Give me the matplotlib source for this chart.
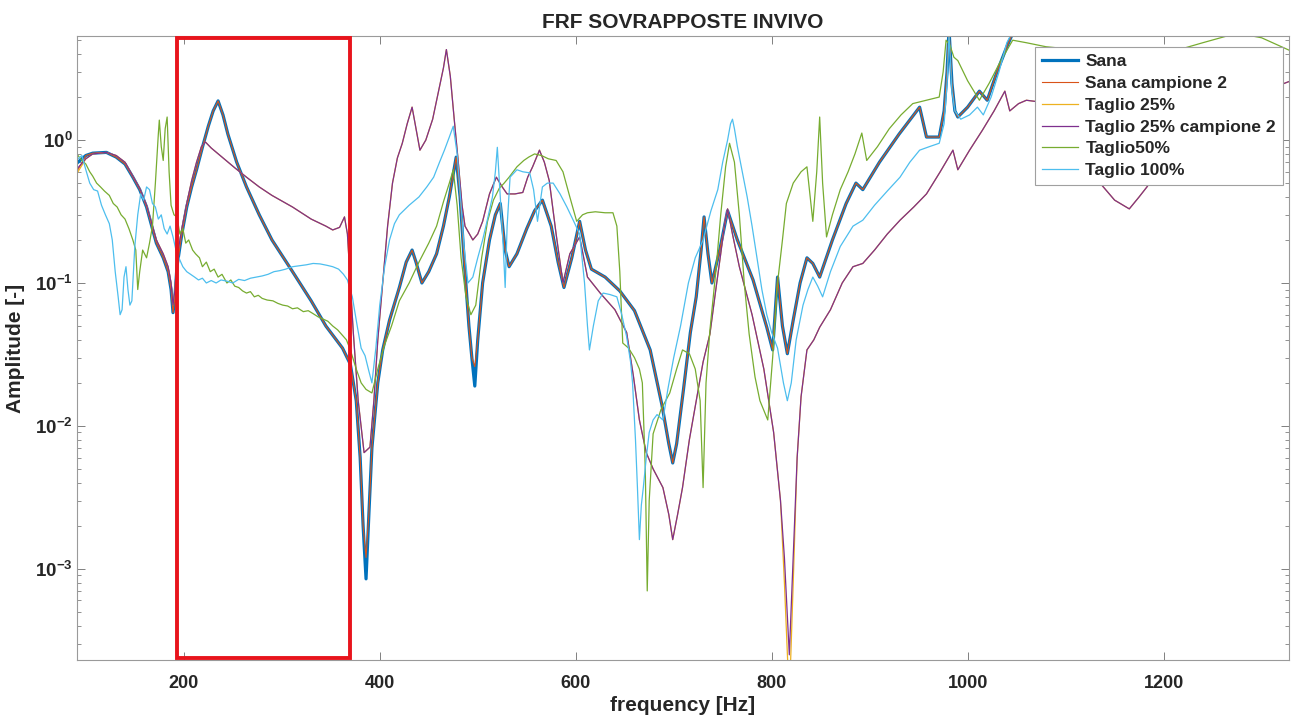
import matplotlib.pyplot as plt
import matplotlib.transforms as mtransforms
from matplotlib.patches import Rectangle

# FRF curves: (frequency [Hz], amplitude [-])
sana = [
    (92, 0.70), (100, 0.78), (107, 0.81), (121, 0.82), (131, 0.76), (140, 0.68), (148, 0.55), (155, 0.45),
    (162, 0.34), (172, 0.19), (179, 0.15), (184, 0.12), (187, 0.09), (189, 0.062), (191, 0.08), (193, 0.13),
    (198, 0.22), (203, 0.34), (208, 0.47), (213, 0.62), (219, 0.89), (225, 1.25), (230, 1.6), (235, 1.88),
    (240, 1.5), (245, 1.1), (254, 0.7), (264, 0.47), (277, 0.3), (290, 0.2), (311, 0.12), (330, 0.075),
    (345, 0.05), (362, 0.035), (370, 0.027), (376, 0.015), (380, 0.006), (383, 0.002), (386, 0.00085),
    (389, 0.0025), (392, 0.007), (398, 0.02), (403, 0.034), (410, 0.055), (420, 0.093), (427, 0.14),
    (433, 0.17), (437, 0.14), (443, 0.1), (450, 0.12), (458, 0.16), (465, 0.25), (471, 0.4), (478, 0.76),
    (482, 0.4), (486, 0.15), (491, 0.05), (494, 0.03), (497, 0.019), (500, 0.04), (505, 0.1), (512, 0.2),
    (518, 0.3), (523, 0.36), (528, 0.17), (532, 0.13), (540, 0.16), (550, 0.24), (558, 0.32), (566, 0.38),
    (575, 0.25), (582, 0.14), (588, 0.093), (596, 0.15), (604, 0.27), (610, 0.17), (616, 0.125), (630, 0.11),
    (645, 0.088), (660, 0.064), (676, 0.034), (688, 0.014), (695, 0.0075), (699, 0.0055), (703, 0.0075),
    (710, 0.018), (717, 0.045), (723, 0.08), (728, 0.17), (731, 0.29), (735, 0.16), (739, 0.1), (747, 0.17),
    (755, 0.32), (765, 0.2), (781, 0.105), (795, 0.049), (801, 0.034), (806, 0.11), (811, 0.05), (816, 0.032),
    (822, 0.055), (829, 0.1), (836, 0.15), (842, 0.137), (849, 0.11), (862, 0.2), (876, 0.36), (886, 0.5),
    (893, 0.45), (910, 0.7), (930, 1.1), (951, 1.7), (958, 1.05), (971, 1.05), (976, 1.6), (979, 3.0),
    (981, 6.0), (984, 2.5), (987, 1.6), (990, 1.45), (1000, 1.7), (1012, 2.2), (1020, 1.9), (1030, 3.0),
    (1040, 4.5), (1048, 6.0), (1100, 7.5), (1200, 8.5), (1330, 10.0),
]

sana_campione_2 = [
    (92, 0.62), (100, 0.78), (107, 0.81), (121, 0.82), (131, 0.76), (140, 0.68), (148, 0.55), (155, 0.45),
    (162, 0.34), (172, 0.19), (179, 0.15), (184, 0.12), (187, 0.09), (189, 0.062), (191, 0.08), (193, 0.13),
    (198, 0.22), (203, 0.34), (208, 0.47), (213, 0.62), (219, 0.89), (225, 1.25), (230, 1.6), (235, 1.88),
    (240, 1.5), (245, 1.1), (254, 0.7), (264, 0.47), (277, 0.3), (290, 0.2), (311, 0.12), (330, 0.075),
    (345, 0.05), (362, 0.035), (370, 0.027), (376, 0.015), (380, 0.006), (383, 0.002), (386, 0.0012),
    (389, 0.0025), (392, 0.007), (398, 0.02), (403, 0.034), (410, 0.055), (420, 0.093), (427, 0.14),
    (433, 0.17), (437, 0.14), (443, 0.1), (450, 0.12), (458, 0.16), (465, 0.25), (471, 0.4), (478, 0.76),
    (482, 0.4), (486, 0.15), (491, 0.05), (494, 0.03), (497, 0.026), (500, 0.04), (505, 0.1), (512, 0.2),
    (518, 0.3), (523, 0.36), (528, 0.17), (532, 0.13), (540, 0.16), (550, 0.24), (558, 0.32), (566, 0.38),
    (575, 0.25), (582, 0.14), (588, 0.093), (596, 0.15), (604, 0.27), (610, 0.17), (616, 0.125), (630, 0.11),
    (645, 0.088), (660, 0.064), (676, 0.034), (688, 0.014), (695, 0.0075), (699, 0.0055), (703, 0.0075),
    (710, 0.018), (717, 0.045), (723, 0.08), (728, 0.17), (731, 0.29), (735, 0.16), (739, 0.1), (747, 0.17),
    (755, 0.32), (765, 0.2), (781, 0.105), (795, 0.049), (801, 0.034), (806, 0.11), (811, 0.05), (816, 0.032),
    (822, 0.055), (829, 0.1), (836, 0.15), (842, 0.137), (849, 0.11), (862, 0.2), (876, 0.36), (886, 0.5),
    (893, 0.45), (910, 0.7), (930, 1.1), (951, 1.7), (958, 1.05), (971, 1.05), (976, 1.6), (979, 3.0),
    (981, 6.0), (984, 2.5), (987, 1.6), (990, 1.45), (1000, 1.7), (1012, 2.2), (1020, 1.9), (1030, 3.0),
    (1040, 4.5), (1048, 6.0), (1100, 7.5), (1200, 8.5), (1330, 10.0),
]

taglio_25 = [
    (92, 0.60), (100, 0.74), (107, 0.8), (121, 0.82), (131, 0.78), (140, 0.7), (148, 0.56), (155, 0.46),
    (162, 0.35), (172, 0.2), (179, 0.16), (184, 0.13), (187, 0.1), (189, 0.07), (191, 0.09), (193, 0.15),
    (198, 0.24), (203, 0.36), (208, 0.52), (213, 0.7), (218, 0.9), (222, 0.97), (228, 0.88), (240, 0.75),
    (252, 0.64), (264, 0.55), (277, 0.47), (290, 0.41), (311, 0.34), (330, 0.28), (345, 0.25), (352, 0.235),
    (359, 0.245), (364, 0.29), (367, 0.22), (370, 0.1), (373, 0.045), (378, 0.015), (384, 0.0065),
    (390, 0.0071), (394, 0.015), (398, 0.04), (403, 0.1), (408, 0.25), (413, 0.5), (418, 0.75), (423, 0.95),
    (428, 1.3), (433, 1.7), (437, 1.2), (441, 0.85), (447, 1.0), (454, 1.4), (460, 2.2), (465, 3.2),
    (468, 4.3), (472, 2.8), (476, 1.4), (480, 0.72), (484, 0.35), (487, 0.25), (495, 0.2), (500, 0.22),
    (505, 0.27), (512, 0.42), (519, 0.55), (525, 0.47), (530, 0.42), (538, 0.42), (546, 0.43), (551, 0.55),
    (556, 0.65), (563, 0.85), (568, 0.7), (573, 0.52), (580, 0.22), (587, 0.1), (594, 0.16), (604, 0.21),
    (612, 0.11), (625, 0.085), (640, 0.065), (652, 0.045), (659, 0.022), (665, 0.011), (672, 0.0065),
    (679, 0.005), (689, 0.0037), (695, 0.0024), (699, 0.0016), (704, 0.0024), (709, 0.0037), (716, 0.008),
    (723, 0.015), (730, 0.028), (737, 0.044), (743, 0.09), (748, 0.16), (752, 0.26), (755, 0.33), (760, 0.22),
    (767, 0.13), (780, 0.06), (792, 0.025), (802, 0.009), (809, 0.003), (813, 0.0008), (818, 0.00012),
    (822, 0.0008), (826, 0.006), (830, 0.016), (836, 0.034), (843, 0.04), (849, 0.049), (860, 0.065),
    (872, 0.1), (883, 0.13), (893, 0.137), (905, 0.17), (918, 0.22), (931, 0.275), (945, 0.34), (958, 0.42),
    (972, 0.6), (985, 0.85), (990, 0.62), (1002, 0.85), (1015, 1.17), (1027, 1.6), (1038, 2.2), (1043, 1.6),
    (1052, 1.8), (1060, 1.9), (1073, 1.85), (1090, 1.4), (1110, 0.9), (1130, 0.55), (1150, 0.38),
    (1165, 0.33), (1175, 0.4), (1183, 0.47), (1200, 0.7), (1230, 1.1), (1260, 1.5), (1295, 2.1), (1330, 2.6),
]

taglio_25_campione_2 = [
    (92, 0.64), (100, 0.74), (107, 0.8), (121, 0.82), (131, 0.78), (140, 0.7), (148, 0.56), (155, 0.46),
    (162, 0.35), (172, 0.2), (179, 0.16), (184, 0.13), (187, 0.1), (189, 0.07), (191, 0.09), (193, 0.15),
    (198, 0.24), (203, 0.36), (208, 0.52), (213, 0.7), (218, 0.9), (222, 0.97), (228, 0.88), (240, 0.75),
    (252, 0.64), (264, 0.55), (277, 0.47), (290, 0.41), (311, 0.34), (330, 0.28), (345, 0.25), (352, 0.235),
    (359, 0.245), (364, 0.29), (367, 0.22), (370, 0.1), (373, 0.045), (378, 0.015), (384, 0.0065),
    (390, 0.0071), (394, 0.015), (398, 0.04), (403, 0.1), (408, 0.25), (413, 0.5), (418, 0.75), (423, 0.95),
    (428, 1.3), (433, 1.7), (437, 1.2), (441, 0.85), (447, 1.0), (454, 1.4), (460, 2.2), (465, 3.2),
    (468, 4.3), (472, 2.8), (476, 1.4), (480, 0.72), (484, 0.35), (487, 0.25), (495, 0.2), (500, 0.22),
    (505, 0.27), (512, 0.42), (519, 0.55), (525, 0.47), (530, 0.42), (538, 0.42), (546, 0.43), (551, 0.55),
    (556, 0.65), (563, 0.85), (568, 0.7), (573, 0.52), (580, 0.22), (587, 0.1), (594, 0.16), (604, 0.21),
    (612, 0.11), (625, 0.085), (640, 0.065), (652, 0.045), (659, 0.022), (665, 0.011), (672, 0.0065),
    (679, 0.005), (689, 0.0037), (695, 0.0024), (699, 0.0016), (704, 0.0024), (709, 0.0037), (716, 0.008),
    (723, 0.015), (730, 0.028), (737, 0.044), (743, 0.09), (748, 0.16), (752, 0.26), (755, 0.33), (760, 0.22),
    (767, 0.13), (780, 0.06), (792, 0.025), (802, 0.009), (809, 0.003), (813, 0.0012), (818, 0.00025),
    (822, 0.0012), (826, 0.006), (830, 0.016), (836, 0.034), (843, 0.04), (849, 0.049), (860, 0.065),
    (872, 0.1), (883, 0.13), (893, 0.137), (905, 0.17), (918, 0.22), (931, 0.275), (945, 0.34), (958, 0.42),
    (972, 0.6), (985, 0.85), (990, 0.62), (1002, 0.85), (1015, 1.17), (1027, 1.6), (1038, 2.2), (1043, 1.6),
    (1052, 1.8), (1060, 1.9), (1073, 1.85), (1090, 1.4), (1110, 0.9), (1130, 0.55), (1150, 0.38),
    (1165, 0.33), (1175, 0.4), (1183, 0.47), (1200, 0.7), (1230, 1.1), (1260, 1.5), (1295, 2.1), (1330, 2.6),
]

taglio_50 = [
    (92, 0.78), (96, 0.72), (100, 0.68), (104, 0.6), (107, 0.56), (111, 0.5), (115, 0.47), (119, 0.44),
    (124, 0.41), (128, 0.36), (132, 0.34), (136, 0.3), (140, 0.28), (144, 0.24), (148, 0.2), (151, 0.17),
    (153, 0.09), (155, 0.12), (158, 0.17), (162, 0.15), (165, 0.19), (168, 0.25), (171, 0.5), (174, 1.1),
    (175, 1.38), (177, 0.9), (179, 0.72), (181, 1.2), (183, 1.45), (185, 0.6), (187, 0.35), (190, 0.3),
    (193, 0.29), (196, 0.22), (199, 0.24), (202, 0.19), (205, 0.2), (209, 0.17), (212, 0.16), (216, 0.15),
    (219, 0.13), (223, 0.14), (227, 0.12), (231, 0.125), (235, 0.11), (239, 0.115), (244, 0.1), (248, 0.105),
    (252, 0.095), (256, 0.093), (260, 0.088), (264, 0.085), (268, 0.087), (272, 0.08), (276, 0.082),
    (280, 0.078), (285, 0.076), (291, 0.075), (296, 0.072), (301, 0.07), (306, 0.069), (311, 0.066),
    (316, 0.067), (322, 0.063), (327, 0.064), (332, 0.061), (337, 0.058), (342, 0.056), (347, 0.054),
    (352, 0.05), (357, 0.047), (362, 0.043), (366, 0.04), (370, 0.034), (376, 0.025), (381, 0.02),
    (386, 0.018), (392, 0.017), (398, 0.025), (405, 0.037), (412, 0.05), (420, 0.075), (430, 0.1),
    (440, 0.14), (450, 0.19), (458, 0.25), (465, 0.37), (471, 0.5), (475, 0.62), (479, 0.35), (483, 0.15),
    (488, 0.08), (493, 0.06), (498, 0.07), (504, 0.15), (510, 0.27), (516, 0.38), (522, 0.46), (527, 0.5),
    (532, 0.55), (540, 0.65), (547, 0.72), (552, 0.76), (558, 0.8), (565, 0.78), (572, 0.74), (580, 0.72),
    (587, 0.6), (594, 0.4), (601, 0.27), (607, 0.3), (612, 0.31), (620, 0.315), (630, 0.31), (638, 0.31),
    (642, 0.25), (645, 0.12), (648, 0.038), (654, 0.035), (660, 0.03), (665, 0.025), (668, 0.02),
    (671, 0.005), (673, 0.0007), (675, 0.003), (679, 0.0088), (687, 0.013), (696, 0.017), (703, 0.025),
    (709, 0.034), (716, 0.032), (722, 0.025), (727, 0.015), (730, 0.0037), (733, 0.02), (737, 0.047),
    (743, 0.12), (748, 0.3), (753, 0.65), (757, 0.95), (762, 0.7), (767, 0.3), (772, 0.1), (777, 0.044),
    (783, 0.022), (788, 0.015), (796, 0.011), (801, 0.03), (806, 0.1), (811, 0.2), (815, 0.36), (822, 0.5),
    (830, 0.6), (836, 0.65), (842, 0.27), (846, 0.6), (849, 1.45), (852, 0.5), (856, 0.21), (862, 0.3),
    (870, 0.45), (878, 0.6), (885, 0.8), (892, 1.12), (897, 0.72), (908, 0.9), (920, 1.2), (932, 1.5),
    (944, 1.8), (958, 1.9), (971, 2.0), (975, 3.0), (978, 5.0), (982, 4.6), (986, 3.8), (990, 3.6),
    (1000, 2.6), (1012, 1.9), (1022, 2.5), (1033, 3.5), (1046, 5.0), (1060, 4.8), (1080, 4.5), (1110, 4.3),
    (1140, 3.5), (1170, 2.8), (1200, 4.0), (1240, 4.8), (1275, 5.6), (1300, 5.2), (1330, 4.2),
]

taglio_100 = [
    (92, 0.74), (96, 0.78), (100, 0.62), (104, 0.5), (108, 0.45), (112, 0.44), (116, 0.35), (120, 0.3),
    (124, 0.26), (127, 0.2), (130, 0.12), (133, 0.08), (135, 0.06), (137, 0.065), (139, 0.11), (141, 0.13),
    (143, 0.09), (145, 0.07), (147, 0.075), (150, 0.18), (153, 0.3), (156, 0.42), (159, 0.38), (162, 0.47),
    (165, 0.45), (168, 0.36), (171, 0.34), (174, 0.28), (177, 0.3), (180, 0.24), (183, 0.22), (186, 0.25),
    (189, 0.21), (192, 0.17), (195, 0.15), (199, 0.13), (203, 0.12), (207, 0.115), (211, 0.11), (215, 0.105),
    (219, 0.108), (223, 0.1), (228, 0.104), (233, 0.1), (238, 0.105), (244, 0.103), (250, 0.1), (256, 0.106),
    (262, 0.104), (268, 0.108), (274, 0.11), (280, 0.112), (286, 0.115), (292, 0.12), (298, 0.122),
    (304, 0.125), (311, 0.13), (318, 0.132), (325, 0.134), (332, 0.137), (339, 0.136), (346, 0.133),
    (352, 0.13), (358, 0.125), (363, 0.115), (367, 0.105), (372, 0.08), (377, 0.05), (381, 0.035),
    (385, 0.031), (389, 0.024), (392, 0.02), (396, 0.035), (400, 0.07), (405, 0.13), (410, 0.2), (415, 0.26),
    (420, 0.3), (430, 0.35), (440, 0.4), (448, 0.47), (455, 0.55), (461, 0.7), (466, 0.85), (471, 1.05),
    (475, 1.25), (479, 0.8), (483, 0.35), (486, 0.18), (490, 0.1), (495, 0.11), (500, 0.15), (505, 0.2),
    (510, 0.28), (515, 0.4), (518, 0.6), (520, 0.89), (523, 0.4), (526, 0.18), (528, 0.093), (530, 0.25),
    (533, 0.55), (540, 0.62), (546, 0.6), (553, 0.59), (557, 0.45), (561, 0.27), (566, 0.47), (571, 0.5),
    (577, 0.5), (584, 0.42), (591, 0.34), (598, 0.27), (604, 0.22), (609, 0.1), (612, 0.05), (614, 0.034),
    (618, 0.05), (623, 0.075), (628, 0.085), (635, 0.083), (642, 0.08), (647, 0.06), (652, 0.042),
    (656, 0.028), (658, 0.02), (661, 0.008), (663, 0.0037), (665, 0.0016), (667, 0.0028), (669, 0.0037),
    (672, 0.006), (675, 0.009), (679, 0.011), (683, 0.012), (689, 0.011), (694, 0.018), (700, 0.03),
    (707, 0.05), (715, 0.1), (722, 0.15), (730, 0.2), (738, 0.32), (745, 0.45), (750, 0.7), (755, 1.0),
    (758, 1.3), (760, 1.4), (762, 1.2), (765, 0.9), (770, 0.6), (775, 0.4), (780, 0.25), (785, 0.15),
    (790, 0.09), (795, 0.06), (800, 0.045), (806, 0.035), (812, 0.02), (816, 0.015), (820, 0.02), (825, 0.04),
    (832, 0.07), (837, 0.09), (842, 0.11), (847, 0.095), (852, 0.08), (860, 0.12), (870, 0.18), (883, 0.25),
    (893, 0.275), (905, 0.35), (918, 0.44), (931, 0.55), (941, 0.7), (951, 0.85), (961, 0.9), (971, 0.95),
    (976, 1.3), (979, 2.5), (981, 5.5), (984, 2.2), (987, 1.6), (993, 1.4), (1002, 1.5), (1010, 1.7),
    (1016, 1.5), (1024, 2.0), (1032, 3.0), (1040, 4.8), (1050, 6.5), (1100, 7.0), (1200, 7.5), (1330, 8.0),
]

series = [sana, sana_campione_2, taglio_25, taglio_25_campione_2, taglio_50, taglio_100]
labels = ['Sana', 'Sana campione 2', 'Taglio 25%', 'Taglio 25% campione 2', 'Taglio50%', 'Taglio 100%']
colors = ['#0072BD', '#D95319', '#EDB120', '#7E2F8E', '#77AC30', '#4DBEEE']
widths = [2.3, 0.8, 0.9, 0.9, 0.9, 0.9]

# frequency band highlighted by the red box
band_start, band_end = 193, 370
x_ticks = [200, 400, 600, 800, 1000, 1200]

plt.rcParams['font.family'] = ['Liberation Sans', 'DejaVu Sans']
plt.rcParams['font.weight'] = 'bold'
plt.rcParams['mathtext.fontset'] = 'custom'
plt.rcParams['mathtext.rm'] = 'Liberation Sans:bold'
plt.rcParams['mathtext.bf'] = 'Liberation Sans:bold'
plt.rcParams['mathtext.default'] = 'bf'

fig = plt.figure(figsize=(12.96, 7.22), dpi=100)
ax = fig.add_axes([77 / 1296, 62 / 722, 1212 / 1296, 624 / 722])

for pts, label, color, lw in zip(series, labels, colors, widths):
    freq = [p[0] for p in pts]
    amp = [p[1] for p in pts]
    ax.plot(freq, amp, color=color, lw=lw, label=label)

ax.set_yscale('log')
ax.set_xlim(91, 1328)
ax.set_ylim(2.3e-4, 5.35)
ax.set_xticks(x_ticks)

# red box over the band, full height of the axes
trans = mtransforms.blended_transform_factory(ax.transData, ax.transAxes)
ax.add_patch(Rectangle((band_start, 0.003), band_end - band_start, 0.994, transform=trans,
                       fill=False, edgecolor='#e8141c', lw=2.8, zorder=10, clip_on=False))

# MATLAB-like box with inward ticks
ax.tick_params(which='both', direction='in', top=True, right=True, colors='#808080',
               labelcolor='#262626')
ax.tick_params(which='major', length=6, width=0.7)
ax.tick_params(which='minor', length=3, width=0.6)
ax.tick_params(axis='x', pad=11, labelsize=13)
ax.tick_params(axis='y', pad=3, labelsize=13.5)
for side in ax.spines.values():
    side.set_color('#9a9a9a')
    side.set_linewidth(0.8)

ax.set_title('FRF SOVRAPPOSTE INVIVO', fontsize=15, fontweight='bold', color='#262626', pad=6)
ax.set_xlabel('frequency [Hz]', fontsize=15, fontweight='bold', color='#262626', labelpad=3)
ax.set_ylabel('Amplitude [-]', fontsize=15, fontweight='bold', color='#262626', labelpad=7)

leg = ax.legend(loc='upper right', bbox_to_anchor=(0.995, 0.982), borderaxespad=0,
                fancybox=False, framealpha=1, edgecolor='#a0a0a0',
                prop={'weight': 'bold', 'size': 12.5},
                handlelength=2.1, handletextpad=0.4, labelspacing=0.38, borderpad=0.4)
leg.get_frame().set_linewidth(0.8)
for txt in leg.get_texts():
    txt.set_color('#262626')

fig.savefig('out.png', dpi=100)
